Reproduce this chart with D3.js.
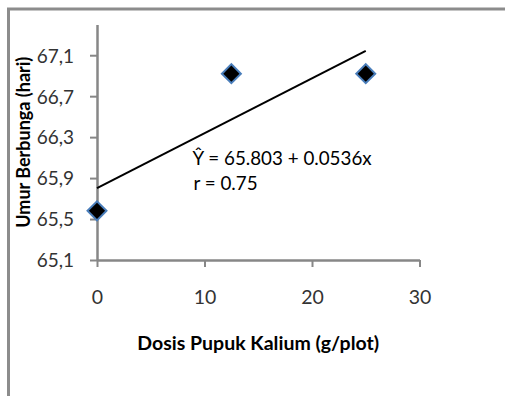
<!DOCTYPE html>
<html>
<head>
<meta charset="utf-8">
<script src="https://cdn.jsdelivr.net/npm/d3@7"></script>
<style>
  body { margin: 0; background: #fff; }
  text { font-family: Lato, "Open Sans", sans-serif; }
</style>
</head>
<body>
<div id="chart"></div>
<script>
// data
const dosis = [0, 12.5, 25];
const umur = [65.58, 66.92, 66.92];
const xTicks = [0, 10, 20, 30];
const yTicks = [65.1, 65.5, 65.9, 66.3, 66.7, 67.1];
const intercept = 65.803, slope = 0.0536;
const eqLines = ["\u0176 = 65.803 + 0.0536x", "r = 0.75"];

const width = 505, height = 396;
const axisColor = "#878787";

const svg = d3.select("#chart").append("svg")
    .attr("width", width)
    .attr("height", height);

// chart area frame (cut off on the right and bottom)
svg.append("rect")
    .attr("x", 8.5).attr("y", 9)
    .attr("width", 520).attr("height", 420)
    .attr("fill", "none")
    .attr("stroke", "#8c8c8c")
    .attr("stroke-width", 3);

const x = d3.scaleLinear().domain([0, 30]).range([97, 419.5]);
const y = d3.scaleLinear().domain([65.1, 67.4]).range([260, 24.5]);

// y axis
const yAxis = svg.append("g")
    .attr("transform", `translate(${x(0)},0)`)
    .call(d3.axisLeft(y).tickValues(yTicks).tickSize(7).tickSizeOuter(0).tickPadding(16)
      .tickFormat(d => d3.format(".1f")(d).replace(".", ",")));

// x axis
const xAxis = svg.append("g")
    .attr("transform", `translate(0,${y(65.1)})`)
    .call(d3.axisBottom(x).tickValues(xTicks).tickSize(7).tickSizeOuter(0).tickPadding(23));

[yAxis, xAxis].forEach(g => {
  g.select(".domain").attr("stroke", axisColor).attr("stroke-width", 2.5);
  g.selectAll(".tick line").attr("stroke", axisColor).attr("stroke-width", 2);
  g.selectAll(".tick text").attr("fill", "#333").attr("font-size", 19);
});
yAxis.selectAll(".tick text").attr("dy", "0.36em");
xAxis.selectAll(".tick text").attr("font-size", 19.5);

// trend line
const trend = d3.line().x(d => x(d)).y(d => y(intercept + slope * d));
svg.append("path")
    .datum([0, 25])
    .attr("d", trend)
    .attr("fill", "none")
    .attr("stroke", "#000")
    .attr("stroke-width", 2);

// diamond markers
svg.append("g").selectAll("path")
  .data(dosis.map((d, i) => [d, umur[i]]))
  .join("path")
    .attr("d", d3.symbol(d3.symbolSquare, 180))
    .attr("transform", d => `translate(${x(d[0])},${y(d[1])}) rotate(45)`)
    .attr("fill", "#000")
    .attr("stroke", "#4a7ebb")
    .attr("stroke-width", 2);

// regression equation
svg.append("g").selectAll("text")
  .data(eqLines)
  .join("text")
    .attr("x", (d, i) => i ? 193.5 : 192.5)
    .attr("y", (d, i) => 165 + i * 25)
    .attr("font-size", 18.8)
    .attr("fill", "#000")
    .text(d => d);

// axis titles
svg.append("text")
    .attr("x", (x(0) + x(30)) / 2)
    .attr("y", 350)
    .attr("text-anchor", "middle")
    .attr("font-size", 19.5)
    .attr("font-weight", "bold")
    .text("Dosis Pupuk Kalium (g/plot)");

svg.append("text")
    .attr("transform", `translate(30,${(y(65.1) + y(67.4)) / 2}) rotate(-90)`)
    .attr("text-anchor", "middle")
    .attr("font-size", 18)
    .attr("font-weight", "bold")
    .text("Umur Berbunga (hari)");
</script>
</body>
</html>
